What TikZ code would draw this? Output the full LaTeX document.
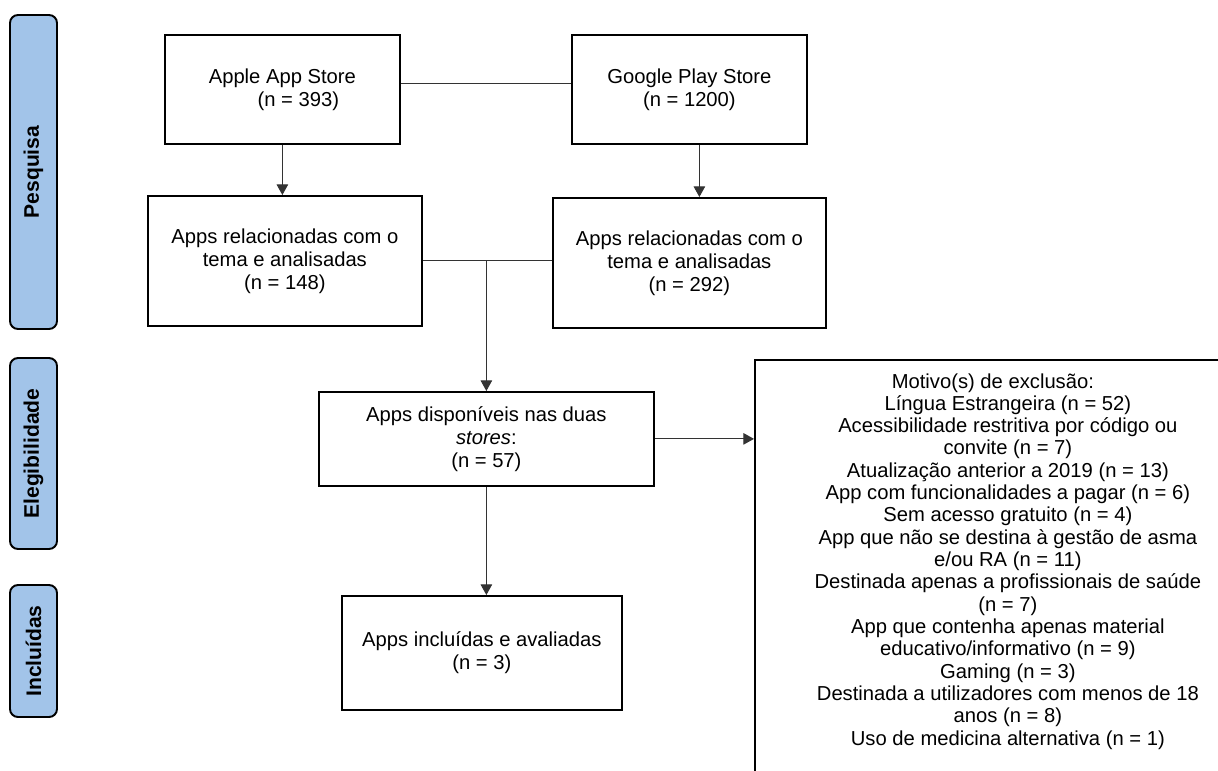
\documentclass[tikz,border=0pt]{standalone}
\usepackage{fontspec}
\setmainfont{Liberation Sans}
\usepackage{xcolor}
\usepackage{tikz}
\usetikzlibrary{arrows.meta}
\usetikzlibrary{shapes,fit,calc,positioning}

\definecolor{stageblue}{RGB}{162,196,233}
\setlength{\lineskiplimit}{-20pt}
\setlength{\lineskip}{0pt}

\tikzset{
  box/.style={draw, line width=1pt, fill=white, align=center, inner sep=2pt,
    font=\fontsize{11.5}{13.1}\selectfont},
  stage/.style={draw, line width=1.1pt, fill=stageblue, rounded corners=0.16cm, rotate=90,
    minimum height=0.94cm, font=\fontsize{12}{14}\selectfont\bfseries},
  link/.style={line width=0.6pt, draw=black!80},
  arr/.style={link, -{Triangle[length=6pt,width=6.5pt]}},
}

\begin{document}
\begin{tikzpicture}
\useasboundingbox (0,0) rectangle (24.36,-15.4);
\clip (0,0) rectangle (24.36,-15.4);

% stages on the left
\node[stage, minimum width=6.28cm](stage1) at (0.67,-3.44) {Pesquisa};
\node[stage, minimum width=3.82cm](stage2) at (0.67,-9.07) {Elegibilidade};
\node[stage, minimum width=2.64cm](stage3) at (0.67,-13.02) {Incluídas};


\coordinate(O1) at (3.28,-0.68);
\node[below right=0cm of O1, box, minimum width=4.7cm, minimum height=2.18cm](apple) {Apple App Store\\\hspace*{0.64cm}(n = 393)};

\coordinate(O1) at (11.42,-0.68);
\node[below right=0cm of O1, box, minimum width=4.7cm, minimum height=2.18cm](google) {Google Play Store\\(n = 1200)};


\coordinate(O1) at (2.94,-3.9);
\node[below right=0cm of O1, box, minimum width=5.48cm, minimum height=2.6cm](rel1) {Apps relacionadas com o\\tema e analisadas\\(n = 148)};

\coordinate(O1) at (11.04,-3.94);
\node[below right=0cm of O1, box, minimum width=5.46cm, minimum height=2.6cm](rel2) {Apps relacionadas com o\\tema e analisadas\\(n = 292)};


\coordinate(O1) at (6.36,-7.82);
\node[below right=0cm of O1, box, minimum width=6.7cm, minimum height=1.88cm](disp) {Apps disponíveis nas duas\\\textit{stores}:\\(n = 57)};

\coordinate(O1) at (6.82,-11.9);
\node[below right=0cm of O1, box, minimum width=5.6cm, minimum height=2.28cm](incl) {Apps incluídas e avaliadas\\(n = 3)};


\coordinate(O1) at (15.08,-7.18);
\node[below right=0cm of O1, draw, line width=1pt, minimum width=10.12cm, minimum height=8.6cm](excl) {};
\node[below=0.28cm of excl.north, inner sep=0pt, align=center, font=\fontsize{11.5}{12.7}\selectfont](exclnote) {Motivo(s) de exclusão:\hspace*{0.6cm}\\
Língua Estrangeira (n = 52)\\
Acessibilidade restritiva por código ou\\
convite (n = 7)\\
Atualização anterior a 2019 (n = 13)\\
App com funcionalidades a pagar (n = 6)\\
Sem acesso gratuito (n = 4)\\
App que não se destina à gestão de asma\\
e/ou RA (n = 11)\\
Destinada apenas a profissionais de saúde\\
(n = 7)\\
App que contenha apenas material\\
educativo/informativo (n = 9)\\
Gaming (n = 3)\\
Destinada a utilizadores com menos de 18\\
anos (n = 8)\\
Uso de medicina alternativa (n = 1)};

\draw[link] ([yshift=1.1mm]apple.east) -- ([yshift=1.1mm]google.west);
\draw[arr] (apple.south) -- (apple.south |- rel1.north);
\draw[arr] ([xshift=2mm]google.south) -- ([xshift=2mm]google.south |- rel2.north);
\draw[link] (rel1.east) -- (rel1.east -| rel2.west);
\draw[arr] (rel1.east -| disp.north) -- (disp.north);
\draw[arr] (disp.south) -- (disp.south |- incl.north);
\draw[arr] (disp.east) -- (disp.east -| excl.west);
\end{tikzpicture}
\end{document}
